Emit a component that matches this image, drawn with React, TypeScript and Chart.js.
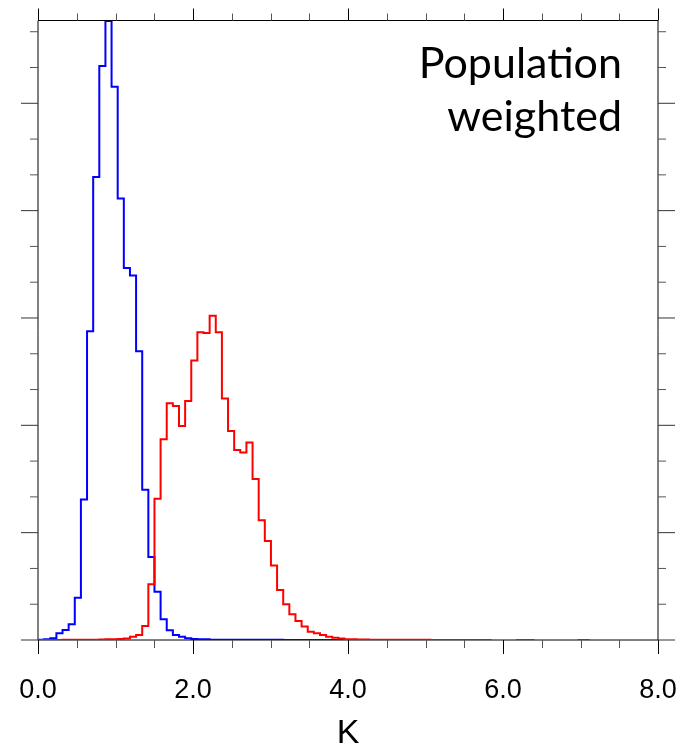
import React, { useEffect, useRef } from "react";
import { Chart, registerables } from "chart.js";

Chart.register(...registerables);

// Histogram bin width (K) and bin values (probability density), one value per bin starting at 0 K
const BIN_WIDTH = 0.0791;

const BLUE_DENSITY: (number | null)[] = [
  0.0005, 0.002, 0.005, 0.019, 0.028, 0.044, 0.118, 0.393, 0.863, 1.294,
  1.604, 1.73, 1.546, 1.234, 1.04, 1.019, 0.807, 0.42, 0.232, 0.135,
  0.058, 0.027, 0.014, 0.009, 0.005, 0.003, 0.002, 0.002, 0.001, 0.001,
  0.001, 0.001, 0.0008, 0.0008, 0.0006, 0.0006, 0.0005, 0.0005, 0.0004, 0.0004,
  0.0003, 0.0003, 0.0003, 0.0002, 0.0002, 0.0002, 0.0002, 0.0002, 0.0001, 0.0001,
  0.0001, 0.0001, 0.0001, 0.0001, 0.0001, 0.0001, 0.0001, 0.0001, 0.0001, 0.0001,
  0.0001,
];

const RED_DENSITY: (number | null)[] = [
  0.0002, 0.0002, 0.0003, 0.0003, 0.0004, 0.0005, 0.0006, 0.0008, 0.001, 0.001,
  0.0015, 0.002, 0.002, 0.003, 0.004, 0.009, 0.014, 0.039, 0.156, 0.395,
  0.561, 0.662, 0.654, 0.598, 0.668, 0.781, 0.86, 0.858, 0.906, 0.86,
  0.675, 0.584, 0.531, 0.524, 0.552, 0.45, 0.335, 0.277, 0.208, 0.14,
  0.1, 0.072, 0.053, 0.038, 0.023, 0.019, 0.014, 0.009, 0.006, 0.004,
  0.002, 0.002, 0.0015, 0.0012, 0.001, 0.001, 0.0008, 0.0008, 0.0006, 0.0006,
  0.0005, 0.0005, 0.0004, 0.0004, 0.0003, 0.0003, 0.0003, 0.0002, 0.0002, 0.0002,
  0.0002, 0.0002, 0.0001, 0.0001, null, null, null, null, 0.0001, 0.0001,
  0.0001, null, null, null, null, null, null, null, 0.0001, 0.0001,
];

const X_TICK_VALUES = [0, 2, 4, 6, 8];
const X_TICK_LABELS = ["0.0", "2.0", "4.0", "6.0", "8.0"];
const X_TITLE = "K";
const ANNOTATION_LINES = ["Population", "weighted"];

const X_MIN = 0;
const X_MAX = 8;
const Y_MIN = 0;
const Y_MAX = 1.73;
const X_MINOR_STEP = 0.5;
const X_MINOR_PER_MAJOR = 4;
const Y_MINOR_STEP = 0.1;
const Y_MINOR_PER_MAJOR = 3;

const BLUE = "#0000ff";
const RED = "#ff0000";

function stepPoints(values: (number | null)[]) {
  const pts: { x: number; y: number | null }[] = [];
  for (let i = 0; i < values.length; i++) {
    const v = values[i];
    if (v == null) {
      pts.push({ x: i * BIN_WIDTH, y: null });
      continue;
    }
    pts.push({ x: i * BIN_WIDTH, y: v });
    const next = values[i + 1];
    if (next == null) {
      pts.push({ x: (i + 1) * BIN_WIDTH, y: v });
      pts.push({ x: (i + 1) * BIN_WIDTH, y: null });
    }
  }
  return pts;
}

const framePlugin = {
  id: "frameTicks",
  beforeDatasetsDraw(chart: any) {
    const { ctx, chartArea } = chart;
    const { left, right, top, bottom } = chartArea;
    const xs = chart.scales.x;
    const ys = chart.scales.y;
    ctx.save();
    ctx.strokeStyle = "#000";
    ctx.lineWidth = 1;
    ctx.beginPath();
    ctx.moveTo(left, top - 0.5);
    ctx.lineTo(right, top - 0.5);
    ctx.moveTo(left, bottom);
    ctx.lineTo(right, bottom);
    ctx.moveTo(left, top - 0.5);
    ctx.lineTo(left, bottom);
    ctx.moveTo(right, top - 0.5);
    ctx.lineTo(right, bottom);
    ctx.stroke();

    // x ticks (bottom outward, top outward)
    const nX = Math.round((X_MAX - X_MIN) / X_MINOR_STEP);
    for (let i = 0; i <= nX; i++) {
      const v = X_MIN + i * X_MINOR_STEP;
      const px = Math.round(xs.getPixelForValue(v));
      const major = i % X_MINOR_PER_MAJOR === 0;
      const len = major ? 14 : 8;
      ctx.strokeStyle = major ? "#000" : "#555";
      ctx.beginPath();
      ctx.moveTo(px + 0.5, bottom);
      ctx.lineTo(px + 0.5, bottom + len);
      ctx.moveTo(px + 0.5, top - 0.5);
      ctx.lineTo(px + 0.5, top - 0.5 - (major ? 12 : 7));
      ctx.stroke();
    }
    // y ticks (left outward, right outward)
    const nY = Math.floor((Y_MAX - Y_MIN) / Y_MINOR_STEP + 1e-6);
    for (let i = 0; i <= nY; i++) {
      const v = Y_MIN + i * Y_MINOR_STEP;
      const py = ys.getPixelForValue(v);
      const major = i % Y_MINOR_PER_MAJOR === 0;
      const len = major ? 17 : 8;
      ctx.strokeStyle = major ? "#333" : "#555";
      ctx.beginPath();
      ctx.moveTo(left - len, py);
      ctx.lineTo(left, py);
      ctx.moveTo(right, py);
      ctx.lineTo(right + len, py);
      ctx.stroke();
    }
    ctx.restore();
  },
};

const annotationPlugin = {
  id: "annotationText",
  afterDraw(chart: any) {
    const { ctx } = chart;
    ctx.save();
    ctx.fillStyle = "#000";
    ctx.font = "43px Lato";
    ctx.textAlign = "right";
    ctx.textBaseline = "alphabetic";
    ctx.fillText(ANNOTATION_LINES[0], 622, 78);
    ctx.fillText(ANNOTATION_LINES[1], 622, 131);
    ctx.restore();
  },
};

export default function App() {
  const ref = useRef<HTMLCanvasElement | null>(null);
  useEffect(() => {
    if (!ref.current) return;
    const chart = new Chart(ref.current, {
      type: "line",
      data: {
        datasets: [
          {
            label: "red",
            data: stepPoints(RED_DENSITY) as any,
            borderColor: RED,
            borderWidth: 2,
            stepped: "before",
            pointRadius: 0,
            fill: false,
            spanGaps: false,
          },
          {
            label: "blue",
            data: stepPoints(BLUE_DENSITY) as any,
            borderColor: BLUE,
            borderWidth: 2,
            stepped: "before",
            pointRadius: 0,
            fill: false,
            spanGaps: false,
          },
        ],
      },
      options: {
        animation: false,
        responsive: false,
        devicePixelRatio: 1,
        parsing: false,
        layout: { padding: { left: 38, right: 25, top: 21, bottom: 0 } },
        plugins: { legend: { display: false }, tooltip: { enabled: false } },
        scales: {
          x: {
            type: "linear",
            min: X_MIN,
            max: X_MAX,
            afterBuildTicks: (s: any) => {
              s.ticks = X_TICK_VALUES.map((v) => ({ value: v }));
            },
            afterFit: (s: any) => {
              s.height = 115;
              s.paddingLeft = 0;
              s.paddingRight = 0;
            },
            grid: { display: false, drawTicks: false },
            border: { display: false },
            ticks: {
              autoSkip: false,
              maxRotation: 0,
              padding: 34,
              color: "#000",
              font: { family: "'Liberation Sans', Arial, sans-serif", size: 27 },
              callback: (_v: any, i: number) => X_TICK_LABELS[i],
            },
            title: {
              display: true,
              text: X_TITLE,
              color: "#000",
              font: { family: "'Liberation Sans', Arial, sans-serif", size: 34 },
              padding: { top: 0, bottom: 1 },
            },
          },
          y: { type: "linear", min: Y_MIN, max: Y_MAX, display: false },
        },
      },
      plugins: [framePlugin, annotationPlugin],
    });
    return () => chart.destroy();
  }, []);
  return (
    <div style={{ position: "absolute", left: 0, top: 0, width: 683, height: 755 }}>
      <canvas ref={ref} width={683} height={755} style={{ display: "block" }} />
    </div>
  );
}
